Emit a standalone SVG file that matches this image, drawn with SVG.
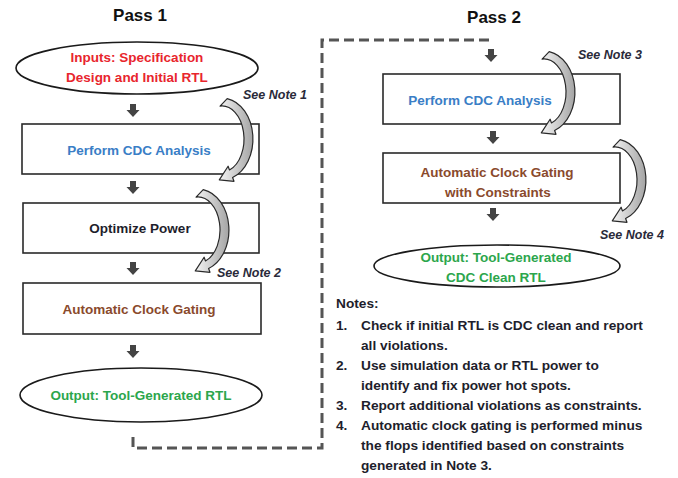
<svg xmlns="http://www.w3.org/2000/svg" width="678" height="478" viewBox="0 0 678 478">
  <style>
    .title { font-family: "Liberation Sans", Arial, sans-serif; font-weight: bold; font-size: 17px; fill: #111; text-anchor: middle; }
    .lbl { font-family: "Liberation Sans", Arial, sans-serif; font-weight: bold; font-size: 13.5px; text-anchor: middle; }
    .red { fill: #e8252d; }
    .blue { fill: #3a7ec6; }
    .brown { fill: #8a4a2c; }
    .green { fill: #2ca64c; }
    .dark { fill: #1e1e2c; }
    .box { fill: #fff; stroke: #2a2a2a; stroke-width: 1.6; }
    .ell { fill: #fff; stroke: #1a1a1a; stroke-width: 1.6; }
    .note { font-family: "Liberation Sans", Arial, sans-serif; font-style: italic; font-weight: bold; font-size: 12.5px; fill: #2a2a3a; }
    .notes { font-family: "Liberation Sans", Arial, sans-serif; font-weight: bold; font-size: 13.7px; fill: #1e1e2c; }
    .down { fill: #444; }
    .curve { fill: url(#curveFill); stroke: #2a2a2a; stroke-width: 1.2; stroke-linejoin: round; }
    .loop { fill: none; stroke: #555; stroke-width: 3; stroke-dasharray: 10 5; }
  </style>
  <defs>
    <linearGradient id="curveFill" x1="0" y1="0" x2="1" y2="0">
      <stop offset="0" stop-color="#f4f4f4"/>
      <stop offset="1" stop-color="#a4a4a4"/>
    </linearGradient>
    <!-- short block arrow pointing down -->
    <path id="downArrow" d="M-3,0 H3 V6 H6.5 L0,13 L-6.5,6 H-3 Z"/>
    <!-- curved hollow arrow: swings out to the right and returns down-left -->
    <path id="curveArrow" d="M7.2,1.6 A31,41 0 0 1 12.6,80.5 L14,84.3 L-0.7,82.9 L8.1,69.2 L9.5,73 A22,33 0 0 0 0.1,9.1 Z"/>
  </defs>

  <text class="title" x="140" y="21">Pass 1</text>
  <text class="title" x="494" y="23">Pass 2</text>

  <!-- feedback loop from Pass 1 output into Pass 2, plus the step arrows -->
  <g id="connectors">
    <path class="loop" d="M133,437 V448 H322 V40 H490 V44"/>
    <use href="#downArrow" class="down" x="133" y="104"/>
    <use href="#downArrow" class="down" x="133" y="181"/>
    <use href="#downArrow" class="down" x="133" y="262"/>
    <use href="#downArrow" class="down" x="133" y="345"/>
    <use href="#downArrow" class="down" x="491" y="49"/>
    <use href="#downArrow" class="down" x="493" y="131"/>
    <use href="#downArrow" class="down" x="493" y="208"/>
  </g>

  <!-- Pass 1 -->
  <g id="p1-inputs">
    <ellipse class="ell" cx="137" cy="68" rx="121" ry="26"/>
    <text class="lbl red" x="137" y="62">Inputs: Specification</text>
    <text class="lbl red" x="137" y="82">Design and Initial RTL</text>
  </g>
  <g id="p1-cdc">
    <rect class="box" x="22" y="124" width="237" height="50"/>
    <text class="lbl blue" x="139" y="155">Perform CDC Analysis</text>
  </g>
  <g id="p1-power">
    <rect class="box" x="23" y="203" width="236" height="50"/>
    <text class="lbl dark" x="140" y="233">Optimize Power</text>
  </g>
  <g id="p1-gating">
    <rect class="box" x="23" y="283" width="238" height="51"/>
    <text class="lbl brown" x="139" y="314">Automatic Clock Gating</text>
  </g>
  <g id="p1-output">
    <ellipse class="ell" cx="141" cy="395" rx="121" ry="27"/>
    <text class="lbl green" x="141" y="400">Output: Tool-Generated RTL</text>
  </g>

  <!-- Pass 2 -->
  <g id="p2-cdc">
    <rect class="box" x="383" y="74" width="237" height="50"/>
    <text class="lbl blue" x="480" y="105">Perform CDC Analysis</text>
  </g>
  <g id="p2-gating">
    <rect class="box" x="383" y="153" width="237" height="50"/>
    <text class="lbl brown" x="497" y="177">Automatic Clock Gating</text>
    <text class="lbl brown" x="498" y="197">with Constraints</text>
  </g>
  <g id="p2-output">
    <ellipse class="ell" cx="497" cy="266" rx="123" ry="21"/>
    <text class="lbl green" x="496" y="262">Output: Tool-Generated</text>
    <text class="lbl green" x="496" y="282">CDC Clean RTL</text>
  </g>

  <!-- note callouts -->
  <g id="callouts">
    <use href="#curveArrow" class="curve" x="220" y="97"/>
    <use href="#curveArrow" class="curve" x="196" y="188"/>
    <use href="#curveArrow" class="curve" x="542" y="50"/>
    <use href="#curveArrow" class="curve" x="613" y="138"/>
    <text class="note" x="243" y="99">See Note 1</text>
    <text class="note" x="217" y="277">See Note 2</text>
    <text class="note" x="578" y="59">See Note 3</text>
    <text class="note" x="600" y="239">See Note 4</text>
  </g>

  <g id="notes">
    <text class="notes" x="336" y="308">Notes:</text>
    <text class="notes" x="336" y="330">1.</text>
    <text class="notes" x="361" y="330">Check if initial RTL is CDC clean and report</text>
    <text class="notes" x="361" y="350">all violations.</text>
    <text class="notes" x="336" y="370">2.</text>
    <text class="notes" x="361" y="370">Use simulation data or RTL power to</text>
    <text class="notes" x="361" y="390">identify and fix power hot spots.</text>
    <text class="notes" x="336" y="410">3.</text>
    <text class="notes" x="361" y="410">Report additional violations as constraints.</text>
    <text class="notes" x="336" y="430">4.</text>
    <text class="notes" x="361" y="430">Automatic clock gating is performed minus</text>
    <text class="notes" x="361" y="450">the flops identified based on constraints</text>
    <text class="notes" x="361" y="470">generated in Note 3.</text>
  </g>
</svg>
